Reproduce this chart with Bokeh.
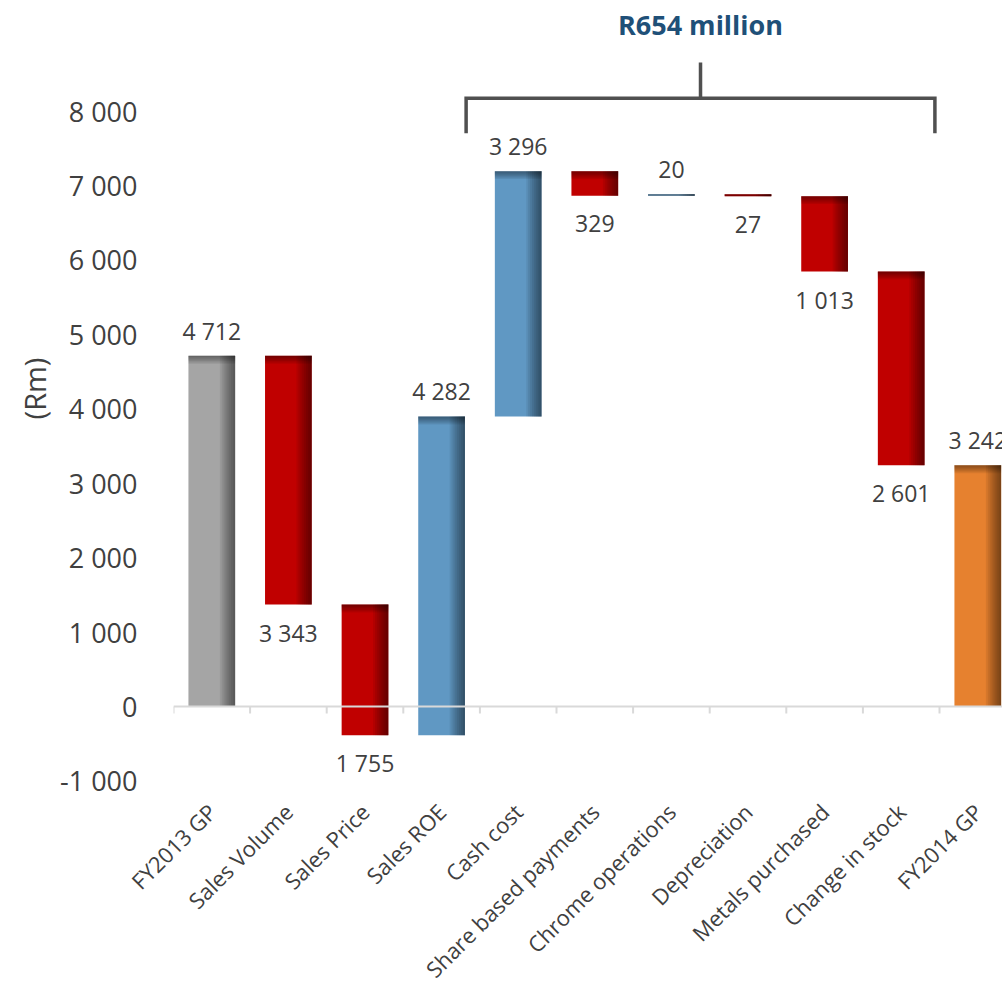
import math
import numpy as np
from bokeh.plotting import figure
from bokeh.models import ColumnDataSource, Range1d, FixedTicker, Label
from bokeh.core.properties import value
from bokeh.embed import file_html
from bokeh.resources import INLINE

# ---------------- data ----------------
categories = ["FY2013 GP", "Sales Volume", "Sales Price", "Sales ROE", "Cash cost",
              "Share based payments", "Chrome operations", "Depreciation",
              "Metals purchased", "Change in stock", "FY2014 GP"]
changes = [4712, -3343, -1755, 4282, 3296, -329, 20, -27, -1013, -2601, 3242]
kinds = ["start", "dec", "dec", "inc", "inc", "dec", "inc", "dec", "dec", "dec", "end"]
y_ticks = [-1000, 0, 1000, 2000, 3000, 4000, 5000, 6000, 7000, 8000]
y_title = "(Rm)"
bracket_label = "R654 million"

# ---------------- styles ----------------
kind_colors = {"start": "#a5a5a5", "end": "#e6812f", "inc": "#6098c3", "dec": "#c00000"}
FONT = value("Open Sans")
TXT = "#404040"
BAR_W = 0.61

# ---------------- derived ----------------
n = len(categories)
xs = np.arange(n, dtype=float)
bottoms, tops, label_y, label_off = [], [], [], []
running = 0
for c, k in zip(changes, kinds):
    if k in ("start", "end"):
        b, t = 0, c
        running = c
    else:
        b, t = running, running + c
        running = t
    lo, hi = min(b, t), max(b, t)
    bottoms.append(lo)
    tops.append(hi)
    if k == "dec":
        label_y.append(lo)
        label_off.append(28)
    else:
        label_y.append(hi)
        label_off.append(-25)
bottoms = np.array(bottoms, dtype=float)
tops = np.array(tops, dtype=float)
colors = [kind_colors[k] for k in kinds]
labels = [f"{abs(c):,}".replace(",", " ") for c in changes]

bars = ColumnDataSource(dict(x=xs, bottom=bottoms, top=tops, color=colors))
lbl = ColumnDataSource(dict(x=xs, y=label_y, off=label_off, text=labels))

# shading overlays (right edge + top edge), derived from the bars
N_R, N_T = 8, 6
band_w = 0.2
band_h = 107.0
ql, qr, qb, qt = [], [], [], []
for k in range(1, N_R + 1):
    ql += list(xs + BAR_W / 2 - band_w * k / N_R)
    qr += list(xs + BAR_W / 2)
    qb += list(bottoms)
    qt += list(tops)
right_band = ColumnDataSource(dict(left=ql, right=qr, bottom=qb, top=qt))
tl, tr, tb, tt = [], [], [], []
for k in range(1, N_T + 1):
    tl += list(xs - BAR_W / 2)
    tr += list(xs + BAR_W / 2)
    tb += list(np.maximum(tops - band_h * k / N_T, bottoms))
    tt += list(tops)
top_band = ColumnDataSource(dict(left=tl, right=tr, bottom=tb, top=tt))

# ---------------- figure ----------------
px_per_unit = 76.6
frame_w = 829
frame_h = 787
p = figure(frame_width=frame_w, frame_height=frame_h,
           x_range=Range1d(-0.5, -0.5 + frame_w / px_per_unit),
           y_range=Range1d(-1195.6, 9377.0),
           output_backend="svg", toolbar_location=None,
           min_border_left=173, min_border_right=0, min_border_top=8,
           min_border_bottom=10)
p.outline_line_color = None
p.xgrid.visible = False
p.ygrid.visible = False
p.background_fill_color = "white"
p.border_fill_color = "white"

p.vbar(x="x", bottom="bottom", top="top", width=BAR_W, fill_color="color",
       line_color=None, source=bars)
p.quad(left="left", right="right", bottom="bottom", top="top", fill_color="black",
       fill_alpha=0.072, line_color=None, source=right_band)
p.quad(left="left", right="right", bottom="bottom", top="top", fill_color="black",
       fill_alpha=0.075, line_color=None, source=top_band)

# category axis line at zero with boundary ticks
bounds = np.arange(n + 1) - 0.5
p.segment(x0=[-0.5], y0=[0], x1=[n - 0.5], y1=[0], line_color="#d9d9d9", line_width=2)
p.segment(x0=bounds, y0=np.zeros(n + 1), x1=bounds, y1=np.full(n + 1, -94.0),
          line_color="#d9d9d9", line_width=2)

# value labels
p.text(x="x", y="y", text="text", y_offset="off", source=lbl, text_align="center",
       text_baseline="middle", text_font=FONT, text_font_size="23px", text_color=TXT)

# bracket annotation
br_x0, br_x1, br_xm = 3.32, 9.44, 6.38
br_y_end, br_y_bar, br_y_top, br_y_text = 7702, 8172, 8651, 9162
p.line(x=[br_x0, br_x0, br_x1, br_x1], y=[br_y_end, br_y_bar, br_y_bar, br_y_end],
       line_color="#505050", line_width=3.5, line_join="miter")
p.segment(x0=[br_xm], y0=[br_y_bar], x1=[br_xm], y1=[br_y_top],
          line_color="#505050", line_width=3.5)
p.text(x=[br_xm], y=[br_y_text], text=[bracket_label], text_align="center",
       text_baseline="middle", text_font=FONT, text_font_size="27px",
       text_font_style="bold", text_color="#1f5078")

# y title placed in the left border (slightly above the frame centre, as in the original)
p.add_layout(Label(x=34, y=388, x_units="canvas", y_units="canvas", text=y_title,
                   angle=math.pi / 2, text_align="center", text_baseline="middle",
                   text_font="Open Sans", text_font_size="29px", text_color=TXT),
             "left")

# axes
p.yaxis.ticker = FixedTicker(ticks=y_ticks)
p.yaxis.major_label_overrides = {v: f"{v:,}".replace(",", " ") for v in y_ticks}
p.yaxis.axis_line_color = None
p.yaxis.major_tick_line_color = None
p.yaxis.minor_tick_line_color = None
p.yaxis.major_label_standoff = 30
p.yaxis.major_label_text_font = "Open Sans"
p.yaxis.major_label_text_font_size = "27px"
p.yaxis.major_label_text_color = TXT

p.xaxis.ticker = FixedTicker(ticks=list(range(n)))
p.xaxis.major_label_overrides = {i: c for i, c in enumerate(categories)}
p.xaxis.axis_line_color = None
p.xaxis.major_tick_line_color = None
p.xaxis.minor_tick_line_color = None
p.xaxis.major_tick_out = 0
p.xaxis.major_label_standoff = 12
p.xaxis.major_label_orientation = math.pi / 4
p.xaxis.major_label_text_font = "Open Sans"
p.xaxis.major_label_text_font_size = "22px"
p.xaxis.major_label_text_color = TXT

open("out.html", "w").write(file_html(p, INLINE))
